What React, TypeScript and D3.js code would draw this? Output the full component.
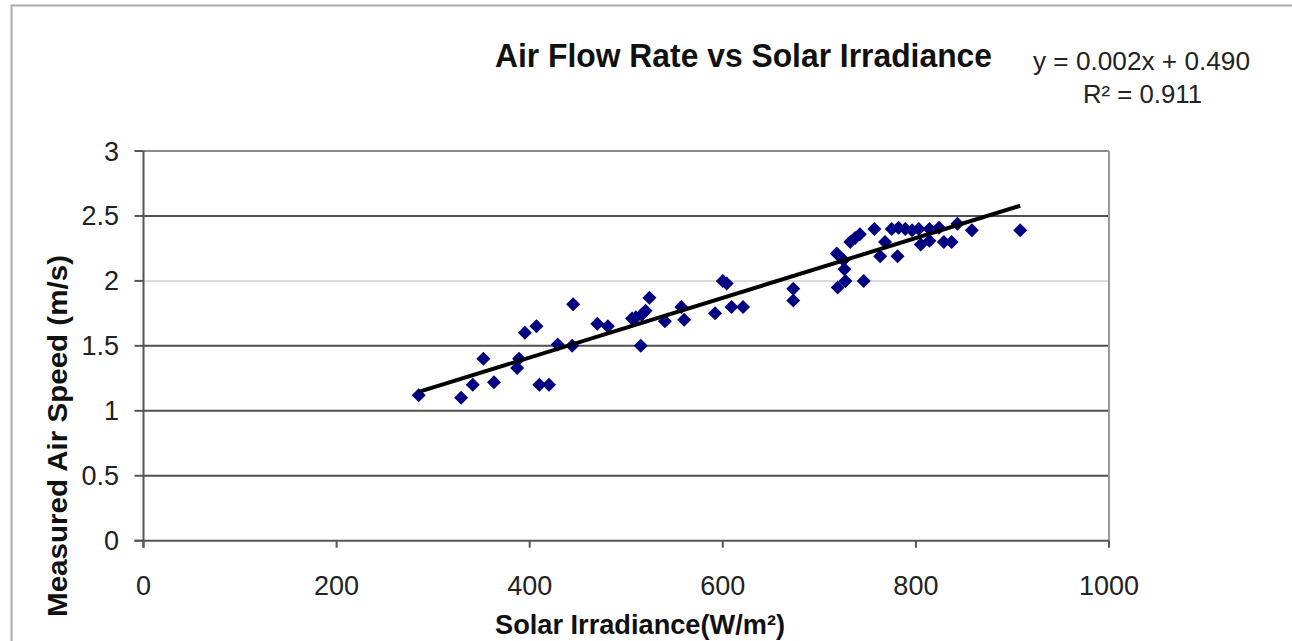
import * as d3 from "d3";

const irradiance = [
  285, 329, 341, 363, 352, 387, 389, 395, 407, 410, 420, 429, 444, 445, 470,
  481, 506, 510, 515, 516, 520, 524, 540, 557, 560, 592, 600, 604, 609, 621,
  673, 673, 718, 719, 725, 727, 726, 746, 732, 737, 742, 757, 763, 768, 775,
  782, 781, 789, 796, 803, 805, 814, 814, 824, 829, 837, 843, 858, 908,
];
const airSpeed = [
  1.12, 1.1, 1.2, 1.22, 1.4, 1.33, 1.4, 1.6, 1.65, 1.2, 1.2, 1.51, 1.5, 1.82,
  1.67, 1.65, 1.71, 1.72, 1.5, 1.74, 1.77, 1.87, 1.69, 1.8, 1.7, 1.75, 2.0,
  1.98, 1.8, 1.8, 1.94, 1.85, 2.21, 1.95, 2.16, 2.0, 2.09, 2.0, 2.3, 2.33,
  2.36, 2.4, 2.19, 2.3, 2.4, 2.41, 2.19, 2.4, 2.39, 2.4, 2.28, 2.4, 2.31, 2.41,
  2.3, 2.3, 2.44, 2.39, 2.39,
];

// trend line (label rounds the slope to 0.002)
const trendSlope = 0.0023;
const trendIntercept = 0.49;

const xTicks = [0, 200, 400, 600, 800, 1000];
const yTicks = [0, 0.5, 1, 1.5, 2, 2.5, 3];

const title = "Air Flow Rate vs Solar Irradiance";
const equation = "y = 0.002x + 0.490";
const rSquared = "R² = 0.911";
const xTitle = "Solar Irradiance(W/m²)";
const yTitle = "Measured Air Speed (m/s)";

const App = () => {
  const width = 1292,
    height = 641,
    left = 143.5,
    right = 1109,
    top = 151,
    bottom = 540.7;

  const x = d3.scaleLinear([0, 1000], [left, right]);
  const y = d3.scaleLinear([0, 3], [bottom, top]);

  const points = irradiance.map((d, i) => [d, airSpeed[i]]);
  const [x0, x1] = d3.extent(irradiance);
  const trend = d3.line(
    (d) => x(d),
    (d) => y(trendSlope * d + trendIntercept),
  );
  const diamond = d3.symbol(d3.symbolSquare, 98)();

  const font = "'Liberation Sans', Arial, sans-serif";

  return (
    <svg
      width={width}
      height={height}
      style={{ position: "absolute", left: 0, top: 0, background: "#fff" }}
      fontFamily={font}
    >
      {/* outer frame */}
      <path d={`M11.5,${height} V5.5 H${width}`} fill="none" stroke="#aaa" strokeWidth="2" />

      <text x={495} y={67} fontSize={34} fontWeight="bold" textLength={497} lengthAdjust="spacingAndGlyphs" fill="#111">
        {title}
      </text>
      <text x={1033} y={70} fontSize={25} textLength={217} lengthAdjust="spacingAndGlyphs" fill="#222">
        {equation}
      </text>
      <text x={1083} y={103} fontSize={25} textLength={119} lengthAdjust="spacingAndGlyphs" fill="#222">
        {rSquared}
      </text>

      {/* grid */}
      {yTicks
        .filter((t) => t > 0 && t < 3)
        .map((t) => (
          <line
            key={t}
            x1={left}
            x2={right}
            y1={y(t)}
            y2={y(t)}
            stroke={t === 2 ? "#cfcfcf" : "#505050"}
            strokeWidth={t === 2 ? 1.5 : 2}
          />
        ))}
      <line x1={left} x2={right} y1={top} y2={top} stroke="#8a8a8a" strokeWidth="2" />
      <line x1={right} x2={right} y1={top} y2={bottom} stroke="#999" strokeWidth="2" />

      {/* axes */}
      <line x1={left} x2={left} y1={top} y2={bottom + 7} stroke="#555" strokeWidth="2" />
      <line x1={left - 9} x2={right} y1={bottom} y2={bottom} stroke="#555" strokeWidth="2" />
      {yTicks.map((t) => (
        <g key={t}>
          <line x1={left - 9} x2={left} y1={y(t)} y2={y(t)} stroke="#555" strokeWidth="2" />
          <text x={119} y={y(t) + 9.5} fontSize={27} textAnchor="end" fill="#222">
            {t}
          </text>
        </g>
      ))}
      {xTicks.map((t) => (
        <g key={t}>
          <line x1={x(t)} x2={x(t)} y1={bottom} y2={bottom + 7} stroke="#555" strokeWidth="2" />
          <text x={x(t)} y={595} fontSize={27} textAnchor="middle" fill="#222">
            {t}
          </text>
        </g>
      ))}

      <text x={640} y={634} fontSize={27} fontWeight="bold" textAnchor="middle" textLength={290} lengthAdjust="spacingAndGlyphs" fill="#111">
        {xTitle}
      </text>
      <text
        transform={`translate(67,436) rotate(-90)`}
        fontSize={27}
        fontWeight="bold"
        textAnchor="middle"
        textLength={362}
        lengthAdjust="spacingAndGlyphs"
        fill="#111"
      >
        {yTitle}
      </text>

      {/* points */}
      <g fill="#000080">
        {points.map(([px, py], i) => (
          <path key={i} d={diamond} transform={`translate(${x(px)},${y(py)}) rotate(45)`} />
        ))}
      </g>
      <path d={trend([x0, x1])} fill="none" stroke="#000" strokeWidth="4" />
    </svg>
  );
};

export default App;
